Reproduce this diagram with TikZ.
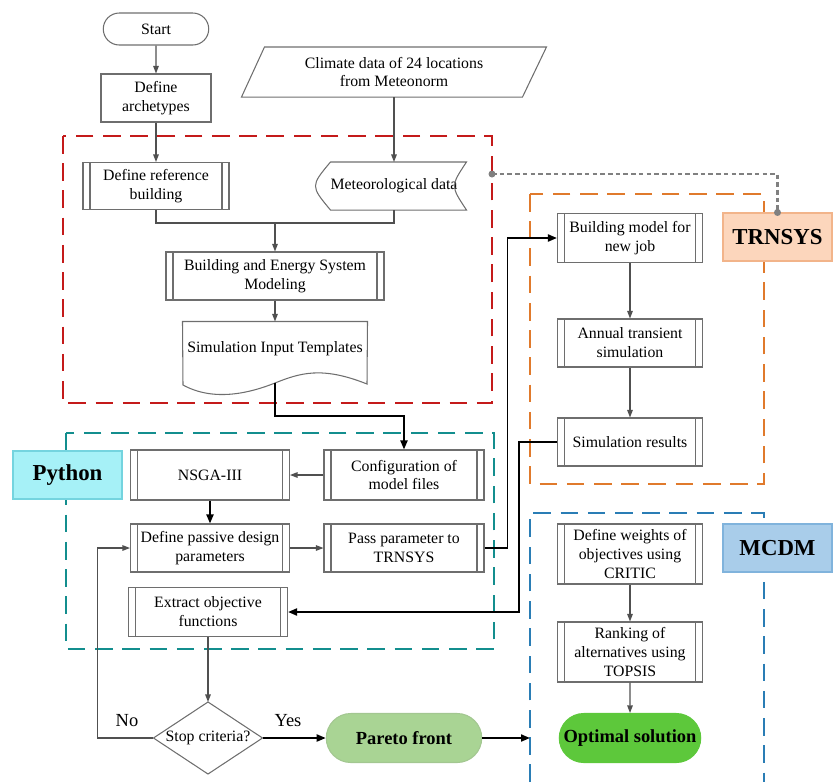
\documentclass[tikz,border=0pt]{standalone}
\usepackage{fontspec}
\setmainfont{Liberation Serif}
\usetikzlibrary{arrows.meta,shapes.misc}

\definecolor{linegray}{HTML}{505050}
\definecolor{boxgray}{HTML}{6E6E6E}
\definecolor{dotgray}{HTML}{808080}
\definecolor{redbox}{HTML}{C41A1A}
\definecolor{tealbox}{HTML}{138E8E}
\definecolor{orangebox}{HTML}{E07A2C}
\definecolor{bluebox}{HTML}{2A7DB5}
\definecolor{pyfill}{HTML}{A6F1F7}
\definecolor{pydraw}{HTML}{74D4DF}
\definecolor{trfill}{HTML}{FCD6BC}
\definecolor{trdraw}{HTML}{F2B48A}
\definecolor{mcfill}{HTML}{A9CDEA}
\definecolor{mcdraw}{HTML}{80B3DC}
\definecolor{paretofill}{HTML}{A9D494}
\definecolor{optfill}{HTML}{5DC83B}

\begin{document}
\begin{tikzpicture}[x=0.02cm, y=-0.02cm, line width=0.6pt,
		font=\fontsize{9}{10.8}\selectfont,
		every node/.style={align=center, inner sep=1pt},
		plain/.style={draw=boxgray, minimum width=2.2cm, minimum height=0.96cm},
		subproc/.style={draw=boxgray, minimum height=0.96cm,
			path picture={\draw[boxgray]
				([xshift=0.14cm]path picture bounding box.north west) -- ([xshift=0.14cm]path picture bounding box.south west)
				([xshift=-0.14cm]path picture bounding box.north east) -- ([xshift=-0.14cm]path picture bounding box.south east);}},
		term/.style={rounded rectangle, draw=boxgray},
		ghost/.style={inner sep=0pt},
		tag/.style={font=\fontsize{13}{15}\selectfont\bfseries, minimum width=2.18cm, minimum height=0.96cm},
		region/.style={line width=1.5pt, dash pattern=on 10pt off 5.5pt},
		arr/.style={draw=linegray, -{Triangle[length=1.5mm, width=1.1mm]}},
		blk/.style={draw=black, line width=1.1pt, -{Triangle[length=1.8mm, width=1.4mm]}},
		dotline/.style={draw=dotgray, line width=1.3pt, dash pattern=on 2.6pt off 1.8pt}]
	
	\useasboundingbox (0,0) rectangle (836,782);
	
	\draw[region, redbox] (63,136) rectangle (492,403);
	\draw[region, tealbox] (66,433) rectangle (494,649);
	\draw[region, orangebox] (530,194) rectangle (764,484);
	\draw[region, bluebox] (530,782) -- (530,513) -- (764,513) -- (764,782);
	
	\node[tag, fill=pyfill, draw=pydraw] (pylab) at (67.5,475) {Python};
	\node[tag, fill=trfill, draw=trdraw] (trnlab) at (777.5,237) {TRNSYS};
	\node[tag, fill=mcfill, draw=mcdraw] (mcdmlab) at (777.5,548) {MCDM};
	
	\node[term, minimum width=2.18cm, minimum height=0.64cm] (start) at (156,29) {Start};
	\node[plain] (arch) at (156,98) {Define\\archetypes};
	
	\node[ghost, minimum width=6.08cm, minimum height=0.98cm] (climate) at (394,72) {Climate data of 24 locations\\from Meteonorm};
	\draw[boxgray] ([xshift=0.46cm]climate.north west) -- (climate.north east) -- ([xshift=-0.48cm]climate.south east) -- (climate.south west) -- cycle;
	
	\node[subproc, minimum width=2.92cm, minimum height=0.94cm] (refb) at (156,186) {Define reference\\building};
	\node[ghost, minimum width=2.92cm, minimum height=0.94cm] (meteo) at (394,186) {Meteorological data};
	\draw[boxgray] ([xshift=0.2cm]meteo.north west) -- ([xshift=-0.02cm]meteo.north east)
		.. controls ([xshift=-0.34cm]meteo.east) .. ([xshift=-0.02cm]meteo.south east)
		-- ([xshift=0.2cm]meteo.south west)
		.. controls ([xshift=-0.2cm]meteo.west) .. ([xshift=0.2cm]meteo.north west);
	
	\node[subproc, minimum width=4.36cm] (besm) at (275,276) {Building and Energy System\\Modeling};
	
	\node[ghost, minimum width=3.68cm, minimum height=1.08cm] (templ) at (275,349) {Simulation Input Templates};
	\draw[boxgray] (templ.north west) -- (templ.north east) -- (367,384)
		.. controls (322,366) and (300,373) .. (275,383)
		.. controls (250,393) and (214,402) .. (183,385) -- cycle;
	\coordinate (tb) at (275,383);
	
	\node[subproc, minimum width=3.2cm, minimum height=1cm] (config) at (404,475) {Configuration of\\model files};
	\node[subproc, minimum width=3.18cm, minimum height=1cm] (nsga) at (210,475) {NSGA-III};
	\node[subproc, minimum width=3.18cm] (passive) at (210,548) {Define passive design\\parameters};
	\node[subproc, minimum width=3.2cm] (pass) at (404,548) {Pass parameter to\\TRNSYS};
	\node[subproc, minimum width=3.18cm, minimum height=0.98cm] (extract) at (208,612) {Extract objective\\functions};
	
	\node[ghost, minimum width=2.16cm, minimum height=1.42cm] (stop) at (208,738) {Stop criteria?};
	\draw[boxgray] (stop.north) -- (stop.east) -- (stop.south) -- (stop.west) -- cycle;
	
	\node[term, fill=paretofill, draw=paretofill!85!gray, font=\fontsize{10.5}{12}\selectfont\bfseries,
		minimum width=3.18cm, minimum height=0.98cm] (pareto) at (404,738) {Pareto front};
	
	\node[subproc, minimum width=2.9cm, minimum height=0.98cm] (bmod) at (630,238) {Building model for\\new job};
	\node[subproc, minimum width=2.9cm] (annual) at (630,343) {Annual transient\\simulation};
	\node[subproc, minimum width=2.9cm] (simres) at (630,442) {Simulation results};
	
	\node[subproc, minimum width=2.9cm, minimum height=1.2cm] (weights) at (630,554) {Define weights of\\objectives using\\CRITIC};
	\node[subproc, minimum width=2.9cm, minimum height=1.2cm] (rank) at (630,652) {Ranking of\\alternatives using\\TOPSIS};
	\node[term, fill=optfill, draw=optfill, font=\fontsize{10.5}{12}\selectfont\bfseries,
		minimum width=2.9cm, minimum height=0.98cm] (optimal) at (630,738) {Optimal solution};
	
	\node[font=\fontsize{10.5}{12}\selectfont] (nolab) at (127,721) {No};
	\node[font=\fontsize{10.5}{12}\selectfont] (yeslab) at (288,721) {Yes};
	
	\draw[arr] (start) -- (arch);
	\draw[arr] (arch) -- (refb);
	\draw[arr] (climate) -- (meteo);
	\coordinate (mrg) at (275,223);
	\draw[draw=linegray] (refb.south) |- (mrg) -| (meteo.south);
	\draw[arr] (mrg) -- (besm);
	\draw[arr] (besm) -- (templ.north);
	
	\draw[blk] (tb) -- ++(0,33) -| (config.north);
	\draw[arr] (config) -- (nsga);
	\draw[blk] (nsga) -- (passive);
	\draw[arr] (passive) -- (pass);
	\draw[blk] (pass.east) -- ++(23,0) |- (bmod.west);
	\draw[arr] (bmod) -- (annual);
	\draw[arr] (annual) -- (simres);
	\draw[blk] (simres.west) -- ++(-38,0) |- (extract.east);
	\draw[arr] (extract) -- (stop.north);
	\draw[arr] (stop.west) -- ++(-56,0) |- (passive.west);
	\draw[blk] (stop.east) -- (pareto.west);
	\coordinate (mcdmin) at (530,738);
	\draw[blk] (pareto.east) -- (mcdmin);
	\draw[arr] (weights) -- (rank);
	\draw[arr] (rank) -- (optimal);
	
	\coordinate (dota) at (492,174);
	\draw[dotline] (dota) -| (trnlab.north);
	\fill[dotgray] (dota) circle (0.07cm);
	\fill[dotgray] (trnlab.north) circle (0.07cm);
	
\end{tikzpicture}
\end{document}
